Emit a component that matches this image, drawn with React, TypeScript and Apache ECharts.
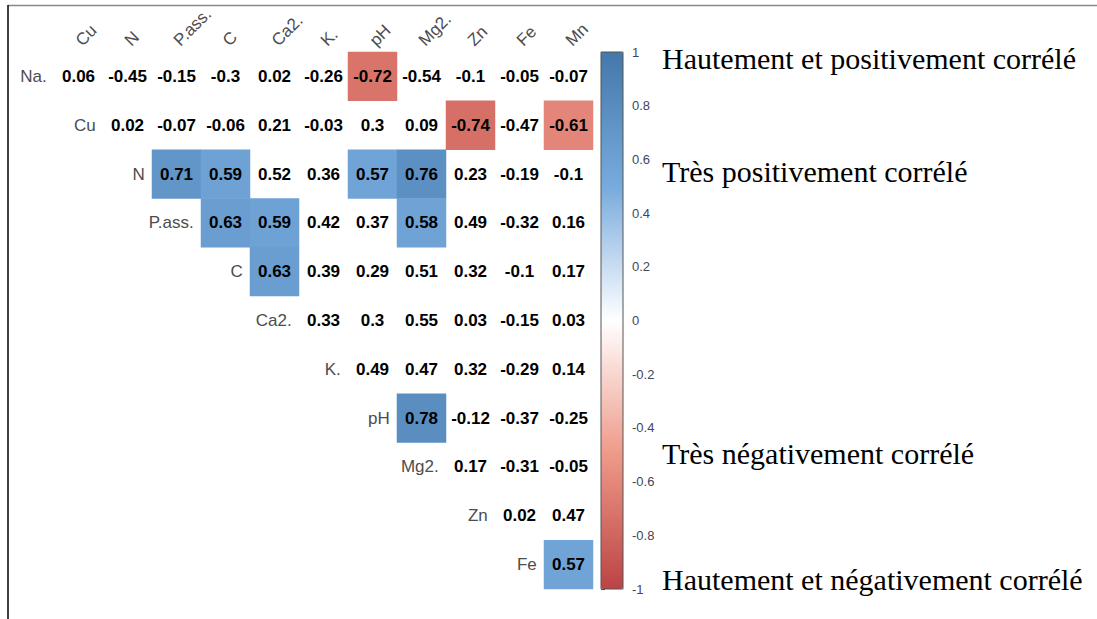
import React, { useEffect, useRef } from "react";
import * as echarts from "echarts";

// Variables shown along the top (columns) and down the diagonal (rows)
const colLabels = ["Cu", "N", "P.ass.", "C", "Ca2.", "K.", "pH", "Mg2.", "Zn", "Fe", "Mn"];
const rowLabels = ["Na.", "Cu", "N", "P.ass.", "C", "Ca2.", "K.", "pH", "Mg2.", "Zn", "Fe"];

// Upper-triangle correlation coefficients; row i starts at column i
const rNa = [0.06, -0.45, -0.15, -0.3, 0.02, -0.26, -0.72, -0.54, -0.1, -0.05, -0.07];
const rCu = [0.02, -0.07, -0.06, 0.21, -0.03, 0.3, 0.09, -0.74, -0.47, -0.61];
const rN = [0.71, 0.59, 0.52, 0.36, 0.57, 0.76, 0.23, -0.19, -0.1];
const rPass = [0.63, 0.59, 0.42, 0.37, 0.58, 0.49, -0.32, 0.16];
const rC = [0.63, 0.39, 0.29, 0.51, 0.32, -0.1, 0.17];
const rCa = [0.33, 0.3, 0.55, 0.03, -0.15, 0.03];
const rK = [0.49, 0.47, 0.32, -0.29, 0.14];
const rPh = [0.78, -0.12, -0.37, -0.25];
const rMg = [0.17, -0.31, -0.05];
const rZn = [0.02, 0.47];
const rFe = [0.57];
const rowValues = [rNa, rCu, rN, rPass, rC, rCa, rK, rPh, rMg, rZn, rFe];

// Coefficients below this magnitude are not significant and stay uncoloured
const SIGNIFICANT_ABS_R = 0.56;

// Colour bar ticks
const barMin = -1;
const barMax = 1;
const barStep = 0.2;

// Side notes next to the colour bar (top of the capitals)
const notes = [
  { text: "Hautement et positivement corrélé", top: 43 },
  { text: "Très positivement corrélé", top: 156.5 },
  { text: "Très négativement corrélé", top: 438.5 },
  { text: "Hautement et négativement corrélé", top: 564.5 },
];

const palette = ["#BB4444", "#EE9988", "#FFFFFF", "#77AADD", "#4477AA"];
const clear = "rgba(255,255,255,0)";
const sans = "Liberation Sans, Arial, sans-serif";

export default function App() {
  const ref = useRef<HTMLDivElement>(null);

  useEffect(() => {
    if (!ref.current) return;
    const chart = echarts.init(ref.current, null, { renderer: "svg" });

    const sigCells: number[][] = [];
    const otherCells: number[][] = [];
    const labelCells: number[][] = [];
    rowValues.forEach((vals, r) => {
      labelCells.push([r, r, 0]);
      vals.forEach((v, k) => {
        const cell = [r + k, r, v];
        if (Math.abs(v) >= SIGNIFICANT_ABS_R) sigCells.push(cell);
        else otherCells.push(cell);
      });
    });

    const valueLabel = {
      show: true,
      color: "#000",
      fontSize: 17,
      fontWeight: "bold" as const,
      fontFamily: sans,
      formatter: (p: any) => String(p.value[2]),
    };

    const option: any = {
      animation: false,
      backgroundColor: "#fff",
      grid: [
        { left: 54, top: 52, width: 539, height: 537, containLabel: false },
        {
          left: 601,
          top: 52,
          width: 22,
          height: 537,
          show: true,
          z: 10,
          backgroundColor: "transparent",
          borderColor: "#555",
          borderWidth: 1,
        },
      ],
      xAxis: [
        {
          type: "category",
          gridIndex: 0,
          position: "top",
          data: colLabels,
          axisLine: { show: false },
          axisTick: { show: false },
          splitLine: { show: false },
          axisLabel: {
            rotate: -45,
            margin: 9,
            interval: 0,
            padding: [17, 0, 0, 0],
            color: "#4d4d4d",
            fontSize: 17,
            fontFamily: sans,
          },
        },
        { type: "value", gridIndex: 1, show: false, min: 0, max: 1 },
      ],
      yAxis: [
        {
          type: "category",
          gridIndex: 0,
          inverse: true,
          data: rowLabels,
          show: false,
        },
        {
          type: "value",
          gridIndex: 1,
          position: "right",
          min: barMin,
          max: barMax,
          interval: barStep,
          splitLine: { show: false },
          axisLine: { show: false },
          axisTick: { show: true, length: 4, lineStyle: { color: "#555" } },
          axisLabel: {
            margin: 9,
            color: "#44445a",
            fontSize: 13,
            fontFamily: sans,
          },
        },
      ],
      visualMap: [
        {
          type: "continuous",
          seriesIndex: 0,
          min: barMin,
          max: barMax,
          calculable: false,
          orient: "vertical",
          left: 601,
          top: 52,
          itemWidth: 22,
          itemHeight: 537,
          padding: 0,
          text: ["", ""],
          textGap: 0,
          showLabel: false,
          inRange: { color: palette },
        },
        {
          type: "continuous",
          seriesIndex: [1, 2],
          show: false,
          min: barMin,
          max: barMax,
          inRange: { color: [clear, clear] },
        },
      ],
      series: [
        {
          type: "heatmap",
          xAxisIndex: 0,
          yAxisIndex: 0,
          data: sigCells,
          silent: true,
          emphasis: { disabled: true },
          label: valueLabel,
        },
        {
          type: "heatmap",
          xAxisIndex: 0,
          yAxisIndex: 0,
          data: otherCells,
          silent: true,
          emphasis: { disabled: true },
          label: valueLabel,
        },
        {
          type: "heatmap",
          xAxisIndex: 0,
          yAxisIndex: 0,
          data: labelCells,
          silent: true,
          emphasis: { disabled: true },
          label: {
            show: true,
            position: "left",
            distance: 7,
            color: "#4d4d4d",
            fontSize: 17,
            fontFamily: sans,
            formatter: (p: any) => rowLabels[p.value[1]],
          },
        },
      ],
      graphic: [
        {
          type: "line",
          shape: { x1: 8, y1: 5.5, x2: 1097, y2: 5.5 },
          style: { stroke: "#888", lineWidth: 1.5 },
          silent: true,
        },
        {
          type: "line",
          shape: { x1: 8, y1: 5, x2: 8, y2: 619 },
          style: { stroke: "#000", lineWidth: 1.5 },
          silent: true,
        },
        ...notes.map((n) => ({
          type: "text",
          left: 662,
          top: n.top,
          silent: true,
          style: {
            text: n.text,
            fill: "#000",
            fontSize: 30,
            fontFamily: "Liberation Serif, Times New Roman, serif",
          },
        })),
      ],
    };

    chart.setOption(option);
    return () => chart.dispose();
  }, []);

  return (
    <div
      ref={ref}
      style={{ position: "fixed", left: 0, top: 0, width: 1097, height: 619 }}
    />
  );
}
